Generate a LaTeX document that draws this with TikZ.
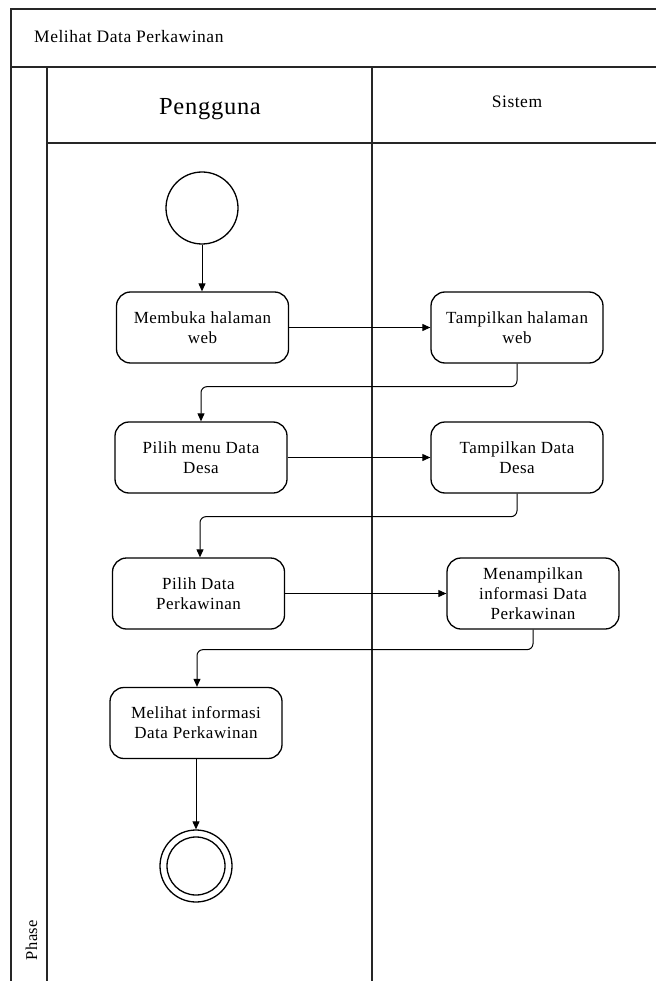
\documentclass[tikz,border=0pt]{standalone}
\usepackage{fontspec}
\setmainfont{Liberation Serif}
\newfontfamily\spfont{Liberation Serif}[LetterSpace=3]
\usetikzlibrary{arrows.meta}
\begin{document}
\begin{tikzpicture}[x=1pt,y=-1pt,
  frame/.style={line width=1.4pt, draw=black!85},
  act/.style={draw, line width=1.3pt, rounded corners=14pt, minimum width=172pt,
    minimum height=71pt, align=center, inner sep=1pt,
    font=\spfont\fontsize{17}{20}\selectfont},
  conn/.style={line width=1pt, -{Triangle[length=8pt,width=7pt]}, rounded corners=6pt},
  txt/.style={inner sep=0pt}
]
\useasboundingbox (0,0) rectangle (656,981);
% frame
\draw[frame] (656,9) -- (11,9) -- (11,981);
\draw[frame] (11,67) -- (656,67);
\draw[frame] (47,67) -- (47,981);
\draw[frame] (47,143) -- (656,143);
\draw[frame] (372,67) -- (372,981);
% texts of frame
\node[txt, anchor=base west, font=\spfont\fontsize{17.5}{18}\selectfont] (title) at (34,43) {Melihat Data Perkawinan};
\node[txt, anchor=base, font=\spfont\fontsize{24.5}{26}\selectfont] (lane1) at (210,115) {Pengguna};
\node[txt, anchor=base, font=\spfont\fontsize{17.5}{18}\selectfont] (lane2) at (517,108) {Sistem};
\node[txt, anchor=base, rotate=90, font=\spfont\fontsize{16.5}{18}\selectfont] (phase) at (37,940) {Phase};
% nodes
\node[draw, circle, line width=1.3pt, minimum size=72pt, inner sep=0pt] (start) at (202,208) {};
\node[act] (b1) at (202.5,327.5) {Membuka halaman\\web};
\node[act] (b2) at (517,327.5) {Tampilkan halaman\\web};
\node[act] (b3) at (201,457.5) {Pilih menu Data\\Desa};
\node[act] (b4) at (517,457.5) {Tampilkan Data\\Desa};
\node[act] (b5) at (198.5,593.5) {Pilih Data\\Perkawinan};
\node[act] (b6) at (533,593.5) {Menampilkan\\informasi Data\\Perkawinan};
\node[act] (b7) at (196,723) {Melihat informasi\\Data Perkawinan};
\node[draw, circle, line width=1.3pt, minimum size=72pt, inner sep=0pt] (end) at (196,866) {};
\node[draw, circle, line width=1.3pt, minimum size=58pt, inner sep=0pt] (endin) at (196,866) {};
% connectors
\draw[conn] (start.south) -- (start.south |- b1.north);
\draw[conn] (b1.east) -- (b2.west);
\draw[conn] (b2.south) -- ++(0,23) -| (b3.north);
\draw[conn] (b3.east) -- (b4.west);
\draw[conn] (b4.south) -- ++(0,23) -| ([xshift=1.5pt]b5.north);
\draw[conn] (b5.east) -- (b6.west);
\draw[conn] (b6.south) -- ++(0,20) -| ([xshift=1pt]b7.north);
\draw[conn] (b7.south) -- (end.north);
\end{tikzpicture}
\end{document}
